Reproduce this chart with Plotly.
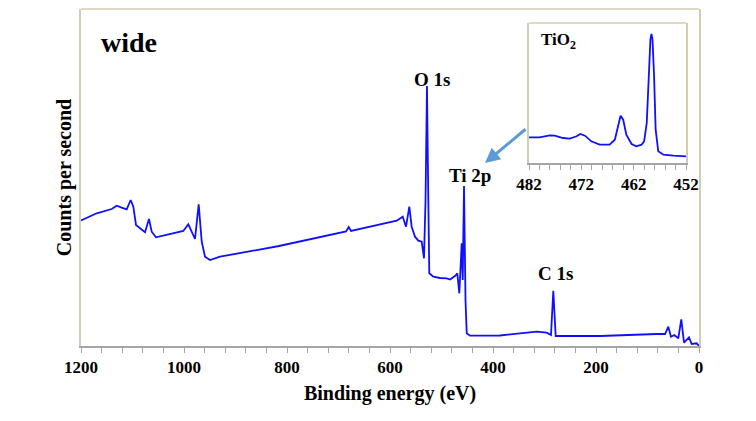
import plotly.graph_objects as go

# Wide survey spectrum (binding energy eV, counts in arbitrary units)
wide_be = [1200, 1169.5, 1140.4, 1130.7, 1121, 1111.3, 1103.5, 1098.4, 1093.2, 1075.7,
           1068, 1062.7, 1054.4, 1033.6, 1001.4, 991.6, 978.6, 971.5, 965.6, 959.2,
           952.8, 949.5, 930, 815.5, 685.4, 680.2, 675.7, 619.4, 587, 575.3,
           568.9, 562.5, 557.9, 551.5, 545, 538.4, 534, 531, 528.2, 525.6,
           523.7, 515.9, 502.9, 489.9, 483.5, 473.8, 469.3, 465.4, 460.8, 458.8,
           456.3, 453.4, 451, 444.7, 386.4, 315.1, 295.7, 287.4, 282.9, 278.3,
           192.2, 82.1, 66, 59.6, 54.4, 48, 40.2, 34.4, 29.1, 19.4,
           14.2, 4.5, 0]
wide_y_px = [220.5, 213.3, 209, 205.7, 207.7, 209.3, 200, 206.7, 225, 232.3,
             219, 231.7, 237.3, 235, 231, 224.3, 239, 204.3, 241.7, 256.7,
             259.3, 260, 256.7, 246, 231.5, 227, 231, 224, 220.7, 216.7,
             226.7, 206.7, 226.7, 236.7, 240.7, 241.7, 258.3, 200, 86, 200,
             273.3, 276.7, 278, 278.3, 279.5, 276, 273.3, 293.3, 243.3, 280,
             186, 300, 333.3, 335.7, 335.5, 331.7, 332.7, 335, 290.7, 336,
             336, 334, 334, 326.7, 336.7, 335, 338.3, 319.3, 342.7, 337.3,
             344, 343.3, 346]
wide_counts = [round(346 - v, 1) for v in wide_y_px]

# Ti 2p high-resolution inset
ti_be = [482, 480, 478, 477.1, 475.5, 474.2, 472.9, 472.2, 471.3, 470.1,
         468.5, 466.6, 465.6, 465.0, 464.5, 464.0, 463.4, 462.4, 461.5, 460.5,
         460.0, 459.5, 459.1, 458.8, 458.6, 458.4, 458.1, 457.8, 457.3, 456.3,
         454.4, 452]
ti_counts = [25.7, 25.7, 27.7, 27.3, 25, 24.3, 26.7, 29, 27.3, 21.7,
             18.3, 18.3, 23.3, 38.3, 47.3, 43.3, 28.3, 19, 16.7, 18.3,
             21.7, 40, 86.7, 123.3, 129, 123.3, 86.7, 33.3, 11.7, 8.3,
             7.3, 6.7]

main_ticks = [1200, 1000, 800, 600, 400, 200, 0]
inset_ticks = [482, 472, 462, 452]

SERIF = "Liberation Serif"
TAN = "#d3cdb2"
GREY = "#a6a6a6"
BLUE = "#1010ff"

fig = go.Figure()
fig.add_trace(go.Scatter(x=wide_be, y=wide_counts, mode="lines",
                         line=dict(color=BLUE, width=1.8), showlegend=False))
fig.add_trace(go.Scatter(x=ti_be, y=ti_counts, mode="lines", xaxis="x2", yaxis="y2",
                         line=dict(color=BLUE, width=1.8), showlegend=False))

L, R, T, B = 81, 57, 9, 75
W, H = 756, 421
pw, ph = W - L - R, H - T - B
ix0, ix1, iy0, iy1 = 529, 686, 23, 163
xd2 = [(ix0 - L) / pw, (ix1 - L) / pw]
yd2 = [(H - B - iy1) / ph, (H - B - iy0) / ph]

fig.update_layout(
    width=W, height=H, margin=dict(l=L, r=R, t=T, b=B, autoexpand=False),
    plot_bgcolor="white", paper_bgcolor="white",
    font=dict(family=SERIF),
    xaxis=dict(range=[1200, 0], tickvals=main_ticks, showgrid=False, zeroline=False,
               showline=True, linecolor=GREY, linewidth=1.5,
               ticks="outside", ticklen=5, tickcolor=GREY, tickwidth=1.2,
               minor=dict(dtick=40, tick0=0, ticks="outside", ticklen=5,
                          tickcolor=GREY, tickwidth=1.2, showgrid=False),
               tickfont=dict(family=SERIF, size=17, color="black", weight="bold"),
               ticklabelstandoff=0,
               title=dict(text="Binding energy (eV)", standoff=10,
                          font=dict(family=SERIF, size=20, color="black", weight="bold"))),
    yaxis=dict(range=[0, 337], showticklabels=False, showgrid=False, zeroline=False,
               showline=True, linecolor=TAN, linewidth=1.5, mirror=True, ticks="",
               title=dict(text="Counts per second", standoff=2,
                          font=dict(family=SERIF, size=20, color="black", weight="bold"))),
    xaxis2=dict(domain=xd2, anchor="y2", range=[482, 452], tickvals=inset_ticks,
                showgrid=False, zeroline=False, showline=True, linecolor=GREY, linewidth=1.5,
                ticks="outside", ticklen=5, tickcolor=GREY, tickwidth=1.2,
                minor=dict(dtick=2, tick0=452, ticks="outside", ticklen=5,
                           tickcolor=GREY, tickwidth=1.2, showgrid=False),
                tickfont=dict(family=SERIF, size=17, color="black", weight="bold"),
                ticklabelstandoff=0),
    yaxis2=dict(domain=yd2, anchor="x2", range=[0, 140], showticklabels=False,
                showgrid=False, zeroline=False, showline=True, linecolor=TAN,
                linewidth=1.5, mirror=True, ticks=""),
)

# top borders in tan
fig.add_shape(type="line", xref="paper", yref="paper", x0=0, x1=1, y0=1, y1=1,
              line=dict(color=TAN, width=1.5))
fig.add_shape(type="line", xref="x2 domain", yref="y2 domain", x0=0, x1=1, y0=1, y1=1,
              line=dict(color=TAN, width=1.5))

def px_x(px):
    return (px - L) / pw

def px_y(py):
    return (H - B - py) / ph

bold = dict(family=SERIF, color="black", weight="bold")
labels = [("wide", 129, 42, 28), ("O 1s", 432, 80, 19), ("Ti 2p", 470, 175, 19),
          ("C 1s", 555, 273, 19), ("TiO<sub>2</sub>", 558, 41, 17)]
for txt, x, y, s in labels:
    fig.add_annotation(text=txt, x=px_x(x), y=px_y(y), xref="paper", yref="paper",
                       xanchor="center", yanchor="middle",
                       showarrow=False, font=dict(size=s, **bold))

# arrow from inset to Ti 2p label (tail offset in pixels)
fig.add_annotation(x=px_x(485), y=px_y(163), xref="paper", yref="paper",
                   ax=527 - 485, ay=128 - 163,
                   text="", showarrow=True, arrowhead=2, arrowsize=1, arrowwidth=3,
                   arrowcolor="#5b9bd5")

fig.write_html("out.html", config={"displayModeBar": False},
               post_script="document.body.style.margin='0';document.body.style.overflow='hidden';")
